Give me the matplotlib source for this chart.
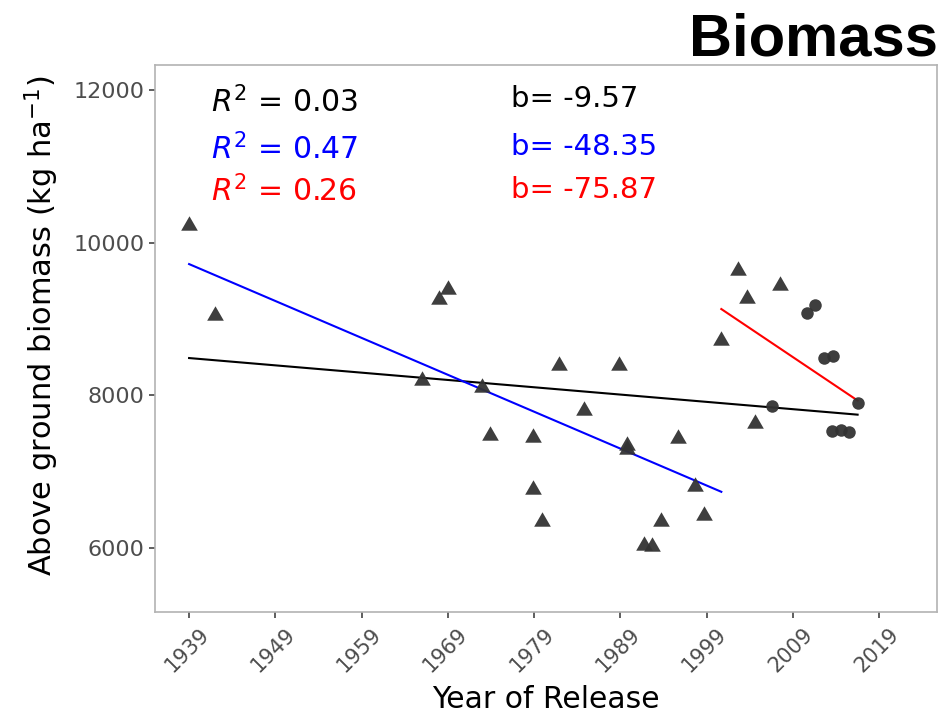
import numpy as np
import matplotlib
matplotlib.use("Agg")
import matplotlib.pyplot as plt
import matplotlib.transforms as mtransforms
from matplotlib.path import Path

plt.rcParams['font.family'] = ['DejaVu Sans']
plt.rcParams['mathtext.fontset'] = 'dejavusans'

# older releases (triangles)
tri_year = [1939.0, 1942.0, 1966.0, 1968.0, 1969.0, 1972.9, 1973.9, 1978.9, 1978.9,
            1979.9, 1981.9, 1984.8, 1988.8, 1989.8, 1989.8, 1991.7, 1992.7, 1993.7,
            1995.7, 1997.7, 1998.7, 2000.7, 2002.6, 2003.7, 2004.6, 2007.5]
tri_biomass = [10262, 9075, 8223, 9284, 9423, 8135, 7511, 7480, 6795,
               6380, 8420, 7830, 8420, 7380, 7319, 6062, 6053, 6380,
               7467, 6835, 6463, 8747, 9664, 9301, 7668, 9468]

# recent releases (circles)
circ_year = [2006.6, 2010.6, 2011.6, 2012.6, 2013.6, 2013.5, 2014.6, 2015.5, 2016.5]
circ_biomass = [7860, 9083, 9183, 8485, 8519, 7537, 7546, 7516, 7896]

# regression lines: start year, end year, value at start, slope b, r2
fit_colors = ['black', 'blue', 'red']
fit_start = [1939.0, 1939.0, 2000.7]
fit_end = [2016.5, 2000.7, 2016.5]
fit_value0 = [8489, 9720, 9131]
fit_slope = [-9.57, -48.35, -75.87]
fit_r2 = [0.03, 0.47, 0.26]

year_ticks = [1939, 1949, 1959, 1969, 1979, 1989, 1999, 2009, 2019]
biomass_ticks = [6000, 8000, 10000, 12000]

# flatter triangle like ggplot shape 17
tri_marker = Path([(-1, -0.866), (1, -0.866), (0, 0.866), (-1, -0.866)],
                  [Path.MOVETO, Path.LINETO, Path.LINETO, Path.CLOSEPOLY])

fig = plt.figure(figsize=(9.47, 7.19), dpi=100)
ax = fig.add_axes([0.1637, 0.1488, 0.9894 - 0.1637, 0.9096 - 0.1488])

for c, x0, x1, v0, b in zip(fit_colors, fit_start, fit_end, fit_value0, fit_slope):
    xs = np.array([x0, x1])
    ax.plot(xs, v0 + b * (xs - x0), color=c, lw=1.5, zorder=2)

ax.plot(tri_year, tri_biomass, marker=tri_marker, ls='none', ms=12,
        color='#333333', alpha=0.95, mec='none', zorder=3)
ax.plot(circ_year, circ_biomass, 'o', ms=9, color='#333333', alpha=0.95,
        mec='none', zorder=3)

r2_y = [0.9128, 0.8282, 0.7501]
b_y = [0.9227, 0.8355, 0.7563]
for c, r2, b, ry, by in zip(fit_colors, fit_r2, fit_slope, r2_y, b_y):
    ax.text(0.0716, ry, r'$\mathit{R}^2$' + ' = %.2f' % r2, color=c, fontsize=21.5,
            transform=ax.transAxes, va='baseline', ha='left')
    ax.text(0.4552, by, 'b= %.2f' % b, color=c, fontsize=21,
            transform=ax.transAxes, va='baseline', ha='left')

ax.set_xlim(1935.05, 2025.7)
ax.set_ylim(5162, 12328)
ax.set_xticks(year_ticks)
ax.set_yticks(biomass_ticks)
ax.tick_params(colors='#333333', labelcolor='#4d4d4d', length=4.3, width=1.1)
ax.tick_params(axis='y', labelsize=16)
ax.tick_params(axis='x', labelsize=15)
shift = mtransforms.ScaledTranslation(7 / 72, -1 / 72, fig.dpi_scale_trans)
for lbl in ax.get_xticklabels():
    lbl.set_rotation(45)
    lbl.set_ha('right')
    lbl.set_va('top')
    lbl.set_rotation_mode('anchor')
    lbl.set_transform(lbl.get_transform() + shift)
for s in ax.spines.values():
    s.set_color('#b3b3b3')
    s.set_linewidth(1.2)

ax.set_xlabel('Year of Release', fontsize=21.5, va='baseline')
ax.xaxis.set_label_coords(0.5, -0.176)
ax.set_ylabel('Above ground biomass (kg ha$^{-1}$)', fontsize=22)
ax.yaxis.set_label_coords(-0.12, 0.523)

fig.text(0.991, 0.9235, 'Biomass', fontsize=43, fontweight='bold',
         family='Liberation Sans', ha='right', va='baseline')

fig.savefig('out.png', dpi=100)
